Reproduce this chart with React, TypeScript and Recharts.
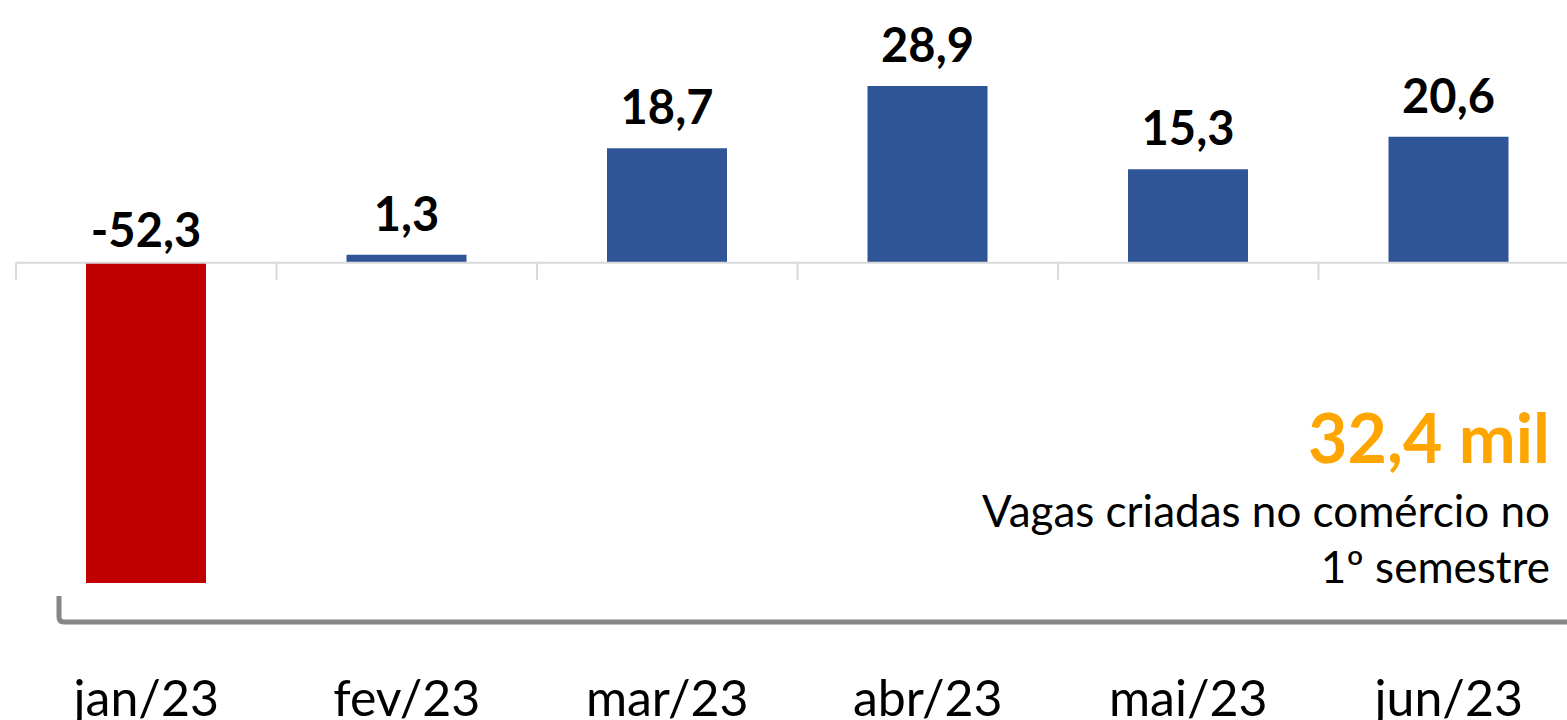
import React from "react";
import { BarChart, Bar, XAxis, YAxis, Cell, LabelList, ReferenceLine } from "recharts";

// monthly net jobs in retail (thousands)
const months = ["jan/23", "fev/23", "mar/23", "abr/23", "mai/23", "jun/23"];
const vagas = [-52.3, 1.3, 18.7, 28.9, 15.3, 20.6];
const totalLabel = "32,4 mil";
const noteLines = ["Vagas criadas no comércio no", "1º semestre"];

const chartData = months.map((month, i) => ({ month, value: vagas[i] }));

const FONT = "Lato, 'Open Sans', sans-serif";
const W = 1600;
const H = 720;
const margin = { top: 18, right: 21, left: 16, bottom: 0 };
const xAxisHeight = 90;
const yMin = -60;
const yMax = 40;
const plotH = H - margin.top - margin.bottom - xAxisHeight;
const plotBottom = margin.top + plotH;
const zeroY = margin.top + (plotH * yMax) / (yMax - yMin);
const band = (W - margin.left - margin.right) / months.length;

const fmt = (v: number) => v.toFixed(1).replace(".", ",");

const MonthTick = (props: any) => {
  const { x, payload } = props;
  const left = x - band / 2;
  return (
    <g>
      <line x1={left} x2={left} y1={zeroY} y2={zeroY + 17} stroke="#d9d9d9" strokeWidth={2} />
      <text
        x={x}
        y={plotBottom + 86}
        textAnchor="middle"
        fontFamily={FONT}
        fontSize={50}
        fill="#000"
      >
        {payload.value}
      </text>
    </g>
  );
};

const ValueLabel = (props: any) => {
  const { x, y, width, height, value } = props;
  const top = Math.min(y, y + height);
  const base = value < 0 ? zeroY - 16 : top - 24;
  return (
    <text
      x={x + width / 2}
      y={base}
      textAnchor="middle"
      fontFamily={FONT}
      fontWeight="bold"
      fontSize={47}
      fill="#000"
    >
      {fmt(value)}
    </text>
  );
};

export default function App() {
  return (
    <div
      style={{
        position: "absolute",
        left: 0,
        top: 0,
        width: 1567,
        height: 720,
        overflow: "hidden",
        background: "#fff",
      }}
    >
      <BarChart width={W} height={H} data={chartData} margin={margin}>
        <YAxis hide domain={[yMin, yMax]} />
        <XAxis
          dataKey="month"
          axisLine={false}
          tickLine={false}
          height={xAxisHeight}
          interval={0}
          tick={<MonthTick />}
        />
        <ReferenceLine y={0} stroke="#d9d9d9" strokeWidth={2} />
        <Bar dataKey="value" barSize={120} isAnimationActive={false}>
          {chartData.map((d) => (
            <Cell key={d.month} fill={d.value < 0 ? "#C00000" : "#2F5597"} />
          ))}
          <LabelList dataKey="value" content={<ValueLabel />} />
        </Bar>
      </BarChart>
      <svg
        width={1567}
        height={720}
        style={{ position: "absolute", left: 0, top: 0, pointerEvents: "none" }}
      >
        <path
          d="M59 596 L59 617 Q59 622 64 622 L1580 622"
          fill="none"
          stroke="#868686"
          strokeWidth={5}
        />
        <text
          x={1550}
          y={463}
          textAnchor="end"
          fontFamily={FONT}
          fontWeight="bold"
          fontSize={68}
          fill="#FFA500"
        >
          {totalLabel}
        </text>
        {noteLines.map((line, i) => (
          <text
            key={line}
            x={1550}
            y={527 + i * 56}
            textAnchor="end"
            fontFamily={FONT}
            fontSize={44}
            fill="#000"
          >
            {line}
          </text>
        ))}
      </svg>
    </div>
  );
}
